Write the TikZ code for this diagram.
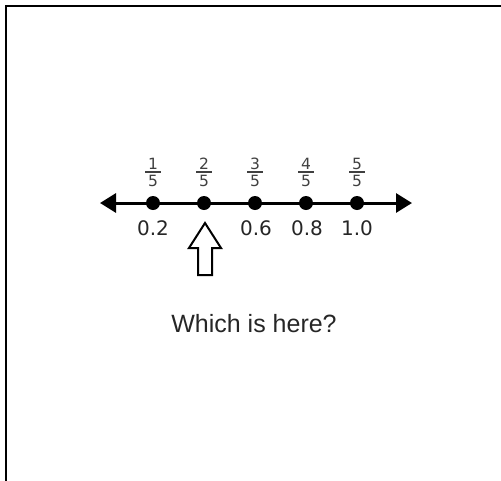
\documentclass[tikz,border=0pt]{standalone}
\usepackage{fontspec}
\setmainfont{Liberation Sans}
\newfontfamily\numfont{DejaVu Sans}
\usetikzlibrary{arrows.meta}
\tikzset{
  dotnode/.style={circle, fill=black, minimum size=14pt, inner sep=0pt},
  numlabel/.style={anchor=base, inner sep=0pt, font=\numfont\fontsize{20}{24}\selectfont, text=black!85},
  fracdigit/.style={anchor=base, inner sep=0pt, font=\numfont\fontsize{15.5}{18}\selectfont, text=black!75},
  fracbar/.style={line width=1.1pt, black!75},
  frameline/.style={line width=2.6pt, black},
}
\begin{document}
\begin{tikzpicture}[x=1pt,y=-1pt]
\useasboundingbox (0,0) rectangle (501,480);
% frame
\draw[frameline] (6,482) -- (6,6) -- (503,6);
% number line
\coordinate (L) at (100,203);
\coordinate (R) at (412,203);
\draw[line width=3pt, {Triangle[length=16pt,width=19pt]}-{Triangle[length=16pt,width=19pt]}] (L) -- (R);
\foreach \i/\x in {1/153,2/204,3/255,4/306,5/357}{
  \node[dotnode] (d\i) at (\x,203) {};
  \node[fracdigit] (n\i) at (\x,169) {\i};
  \node[fracdigit] (m\i) at (\x,186) {5};
  \draw[fracbar] (\x-8,172) -- (\x+8,172);
}
\node[numlabel] (l1) at (153,235) {0.2};
\node[numlabel] (l3) at (256,235) {0.6};
\node[numlabel] (l4) at (307,235) {0.8};
\node[numlabel] (l5) at (357,235) {1.0};
% hollow up arrow
\draw[line width=2pt, line join=miter, fill=white]
  (205,223) -- (221,248) -- (212,248) -- (212,275) -- (198,275) -- (198,248) -- (189,248) -- cycle;
% question
\node[anchor=base, inner sep=0pt, font=\fontsize{25}{30}\selectfont, text=black!85] (q) at (254,332) {Which is here?};
\end{tikzpicture}
\end{document}
